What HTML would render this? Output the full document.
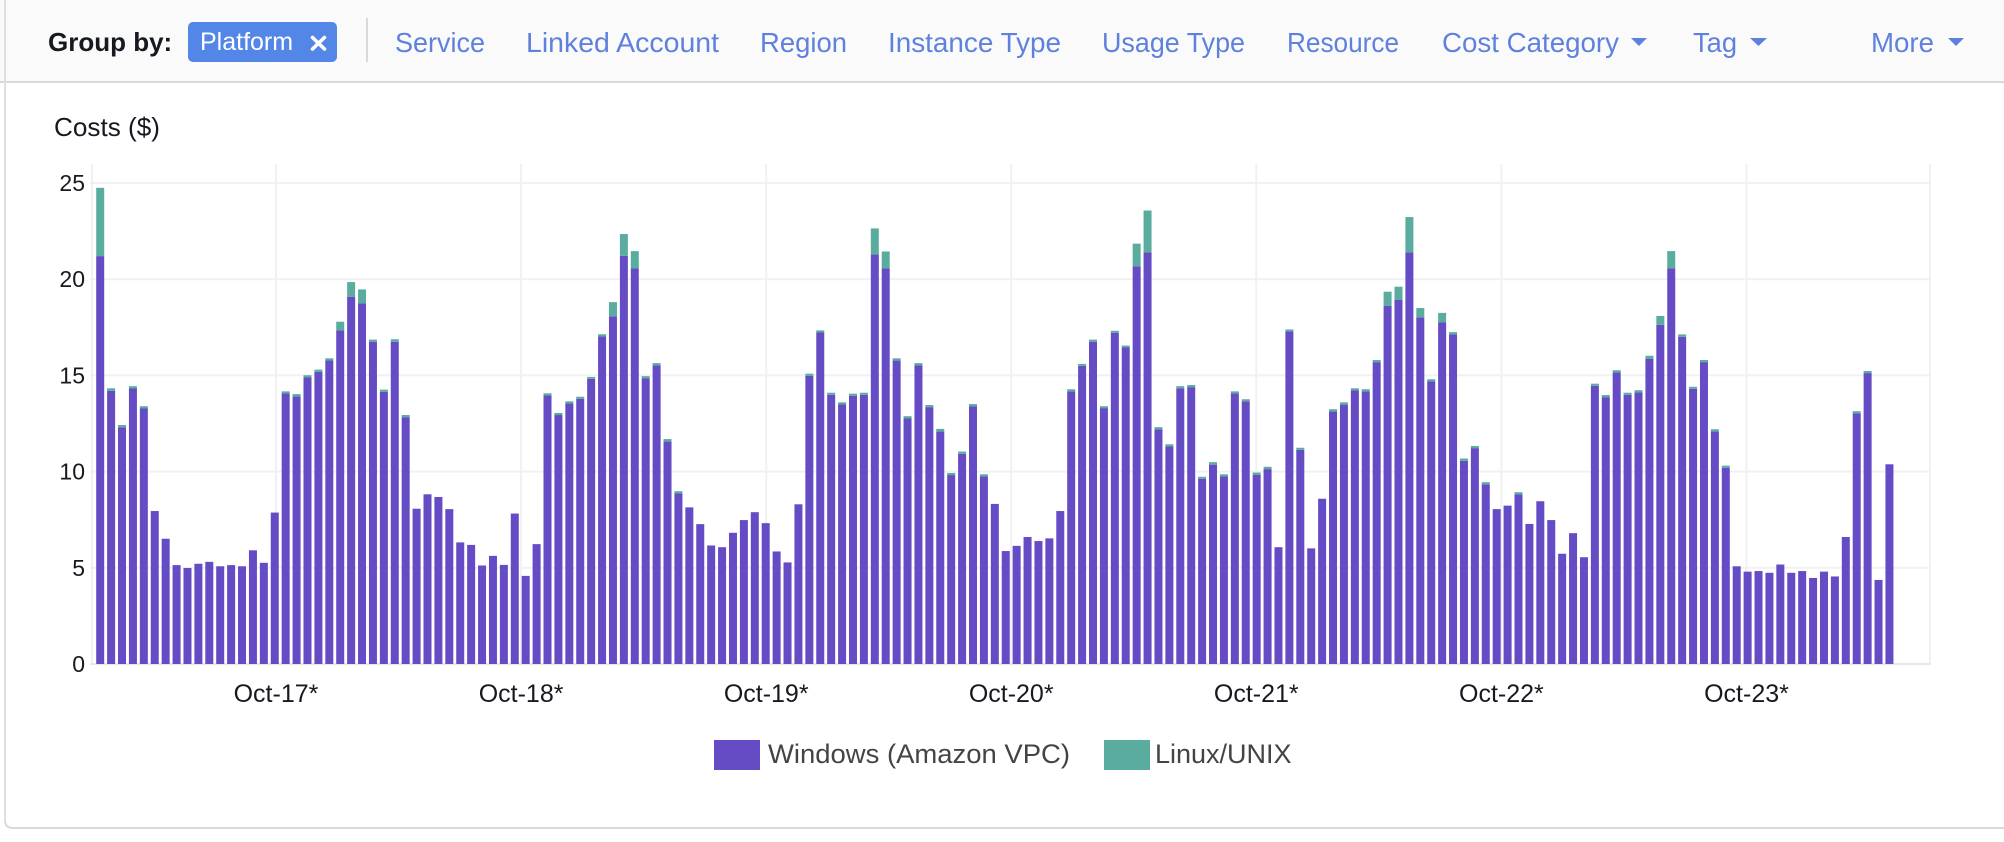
<!DOCTYPE html>
<html>
<head>
<meta charset="utf-8">
<style>
  html, body { margin:0; padding:0; background:#ffffff; }
  body { width:2004px; height:842px; overflow:hidden; position:relative; font-family:"Liberation Sans", Arial, sans-serif; }
  svg { position:absolute; left:0; top:0; }
</style>
</head>
<body>
<svg width="2004" height="842" viewBox="0 0 2004 842" xmlns="http://www.w3.org/2000/svg" font-family="Liberation Sans, Arial, sans-serif">
  <!-- top bar -->
  <rect x="0" y="0" width="2004" height="82" fill="#fafafa"/>
  <rect x="0" y="81" width="2004" height="2" fill="#d5dbdb"/>
  <!-- panel borders -->
  <rect x="4" y="0" width="2" height="822" fill="#dde1e1"/>
  <path d="M5 820 Q5 828 13 828 L2004 828" fill="none" stroke="#d5dbdb" stroke-width="2"/>

  <!-- Group by -->
  <text x="48" y="51" font-size="26" font-weight="bold" fill="#16191f">Group by:</text>
  <rect x="188" y="22" width="149" height="40" rx="5" ry="5" fill="#5486e8"/>
  <text x="200" y="50" font-size="25" fill="#ffffff">Platform</text>
  <g stroke="#ffffff" stroke-width="3.6" stroke-linecap="round">
    <line x1="312.5" y1="37.5" x2="324.5" y2="49"/>
    <line x1="324.5" y1="37.5" x2="312.5" y2="49"/>
  </g>
  <rect x="366" y="18" width="2" height="44" fill="#d5dbdb"/>

  <g font-size="28" fill="#5f81de">
    <text x="395" y="52" textLength="90" lengthAdjust="spacingAndGlyphs">Service</text>
    <text x="526" y="52" textLength="193" lengthAdjust="spacingAndGlyphs">Linked Account</text>
    <text x="760" y="52" textLength="87" lengthAdjust="spacingAndGlyphs">Region</text>
    <text x="888" y="52" textLength="173" lengthAdjust="spacingAndGlyphs">Instance Type</text>
    <text x="1102" y="52" textLength="143" lengthAdjust="spacingAndGlyphs">Usage Type</text>
    <text x="1287" y="52" textLength="112" lengthAdjust="spacingAndGlyphs">Resource</text>
    <text x="1442" y="52" textLength="177" lengthAdjust="spacingAndGlyphs">Cost Category</text>
    <text x="1693" y="52" textLength="44" lengthAdjust="spacingAndGlyphs">Tag</text>
    <text x="1871" y="52" textLength="63" lengthAdjust="spacingAndGlyphs">More</text>
  </g>
  <g fill="#5f81de">
    <polygon points="1631,38 1647,38 1639,46"/>
    <polygon points="1750,38 1767,38 1758.5,46"/>
    <polygon points="1948,38 1964,38 1956,46"/>
  </g>

  <!-- chart title -->
  <text x="54" y="136" font-size="26" fill="#16191f" textLength="106" lengthAdjust="spacingAndGlyphs">Costs ($)</text>

  <!-- grid -->
  <g stroke="#f1f1f1" stroke-width="2">
    <line x1="92" y1="164" x2="92" y2="664"/>
    <line x1="276" y1="164" x2="276" y2="664"/>
    <line x1="521.1" y1="164" x2="521.1" y2="664"/>
    <line x1="766.2" y1="164" x2="766.2" y2="664"/>
    <line x1="1011.2" y1="164" x2="1011.2" y2="664"/>
    <line x1="1256.3" y1="164" x2="1256.3" y2="664"/>
    <line x1="1501.4" y1="164" x2="1501.4" y2="664"/>
    <line x1="1746.5" y1="164" x2="1746.5" y2="664"/>
    <line x1="1930" y1="164" x2="1930" y2="664"/>
    <line x1="90" y1="183" x2="1931" y2="183"/>
    <line x1="90" y1="279.2" x2="1931" y2="279.2"/>
    <line x1="90" y1="375.4" x2="1931" y2="375.4"/>
    <line x1="90" y1="471.6" x2="1931" y2="471.6"/>
    <line x1="90" y1="567.8" x2="1931" y2="567.8"/>
  </g>
  <line x1="90" y1="664" x2="1931" y2="664" stroke="#e8e8e8" stroke-width="2"/>

  <!-- y labels -->
  <g font-size="23" fill="#16191f" text-anchor="end">
    <text x="85" y="191">25</text>
    <text x="85" y="287.2">20</text>
    <text x="85" y="383.4">15</text>
    <text x="85" y="479.6">10</text>
    <text x="85" y="575.8">5</text>
    <text x="85" y="672">0</text>
  </g>

  <!-- bars -->
  <g id="bars"></g>

  <!-- x labels -->
  <g font-size="25" fill="#16191f" text-anchor="middle">
    <text x="276" y="702">Oct-17*</text>
    <text x="521.1" y="702">Oct-18*</text>
    <text x="766.2" y="702">Oct-19*</text>
    <text x="1011.2" y="702">Oct-20*</text>
    <text x="1256.3" y="702">Oct-21*</text>
    <text x="1501.4" y="702">Oct-22*</text>
    <text x="1746.5" y="702">Oct-23*</text>
  </g>

  <!-- legend -->
  <rect x="714" y="740" width="46" height="30" fill="#654bc4"/>
  <text x="768" y="763" font-size="27" fill="#444444" textLength="302" lengthAdjust="spacingAndGlyphs">Windows (Amazon VPC)</text>
  <rect x="1104" y="740" width="46" height="30" fill="#5aad9e"/>
  <text x="1155" y="763" font-size="27" fill="#444444">Linux/UNIX</text>
</svg>
<script>
(function(){
  var d = [
  [24.75,21.2],[14.33,14.2],[12.42,12.3],[14.44,14.32],[13.4,13.28],7.95,6.51,5.14,4.99,5.21,
  5.31,5.08,5.14,5.08,5.91,5.26,7.87,[14.17,14.07],[14.03,13.9],[15.01,14.89],
  [15.3,15.18],[15.89,15.78],[17.79,17.34],[19.85,19.09],[19.47,18.74],[16.86,16.75],[14.26,14.14],[16.88,16.75],[12.94,12.83],8.07,
  8.82,8.68,8.05,6.32,6.19,5.12,5.62,5.15,7.82,4.58,
  6.23,[14.07,13.96],[13.05,12.94],[13.65,13.55],[13.89,13.78],[14.92,14.82],[17.14,17.02],[18.81,18.07],[22.35,21.21],[21.46,20.56],
  [14.96,14.84],[15.64,15.52],[11.69,11.56],[8.98,8.86],8.14,7.27,6.16,6.07,6.82,7.48,
  7.89,7.32,5.85,5.28,8.3,[15.09,14.98],[17.34,17.23],[14.1,13.99],[13.6,13.49],[14.05,13.94],
  [14.1,13.99],[22.64,21.28],[21.44,20.56],[15.89,15.77],[12.88,12.76],[15.64,15.53],[13.46,13.35],[12.22,12.08],[9.93,9.82],[11.04,10.92],
  [13.51,13.4],[9.86,9.75],8.32,5.87,6.14,6.6,6.39,6.53,7.95,[14.28,14.17],
  [15.6,15.5],[16.86,16.75],[13.4,13.3],[17.32,17.22],[16.55,16.45],[21.85,20.67],[23.57,21.39],[12.31,12.2],[11.42,11.31],[14.44,14.33],
  [14.5,14.39],[9.73,9.63],[10.49,10.36],[9.86,9.75],[14.17,14.07],[13.76,13.65],[9.95,9.84],[10.25,10.13],6.07,[17.39,17.29],
  [11.24,11.13],6.01,8.59,[13.24,13.12],[13.6,13.48],[14.33,14.23],[14.28,14.17],[15.8,15.69],[19.35,18.61],[19.61,18.92],
  [23.23,21.39],[18.5,18.02],[14.8,14.69],[18.25,17.75],[17.25,17.13],[10.68,10.56],[11.33,11.22],[9.45,9.34],8.05,8.23,
  [8.93,8.82],7.28,8.46,7.48,5.73,6.8,5.55,[14.57,14.46],[13.98,13.87],[15.27,15.16],
  [14.1,13.99],[14.23,14.12],[16.02,15.87],[18.09,17.63],[21.46,20.56],[17.13,17.0],[14.41,14.3],[15.8,15.69],[12.2,12.08],[10.31,10.2],
  5.08,4.8,4.83,4.74,5.17,4.74,4.83,4.47,4.8,4.55,
  6.6,[13.14,13.03],[15.23,15.12],4.37,10.38
  ];
  var ns = "http://www.w3.org/2000/svg";
  var g = document.getElementById("bars");
  var base = 664, k = 19.24, x0 = 96.2, pitch = 10.91, w = 8;
  function rect(x,y,h,fill){
    var r = document.createElementNS(ns,"rect");
    r.setAttribute("x",x.toFixed(2)); r.setAttribute("y",y.toFixed(2));
    r.setAttribute("width",w); r.setAttribute("height",h.toFixed(2));
    r.setAttribute("fill",fill);
    g.appendChild(r);
  }
  for (var i=0;i<d.length;i++){
    var t, p;
    if (typeof d[i] === "number"){ t = d[i]; p = d[i]; } else { t = d[i][0]; p = d[i][1]; }
    var x = x0 + i*pitch;
    var yp = base - p*k, yt = base - t*k;
    rect(x, yp, p*k, "#654bc4");
    if (t > p) rect(x, yt, yp-yt, "#5aad9e");
  }
})();
</script>
</body>
</html>
